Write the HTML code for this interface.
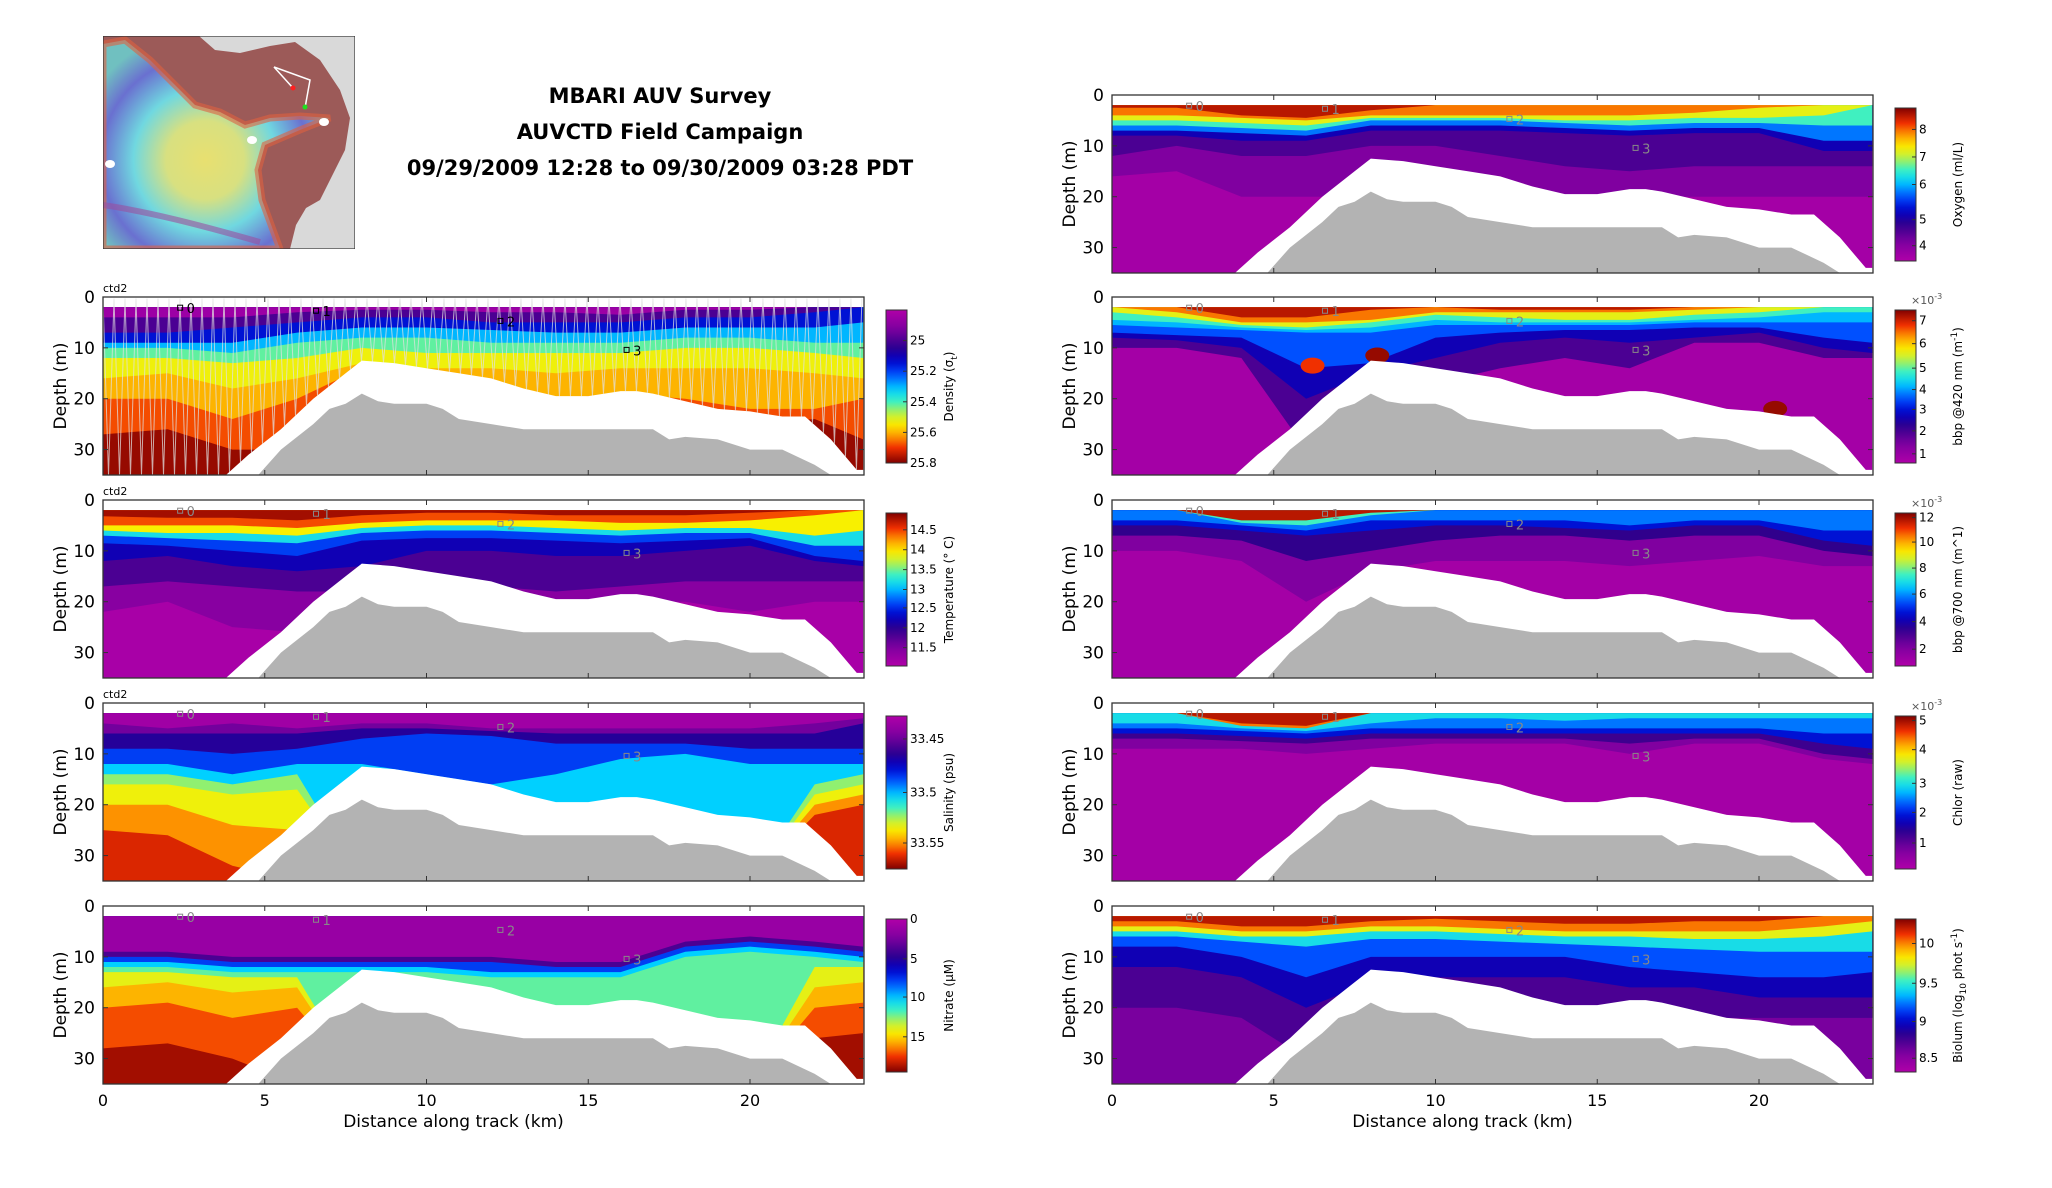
<!DOCTYPE html>
<html><head><meta charset="utf-8"><style>
html,body{margin:0;padding:0;background:#fff;}
svg{display:block;font-family:"DejaVu Sans","Liberation Sans",sans-serif;}
</style></head><body>
<svg id="fig" xmlns="http://www.w3.org/2000/svg" width="2052" height="1188" viewBox="0 0 2052 1188">
<defs>
<linearGradient id="cbHiTop" x1="0" y1="0" x2="0" y2="1"></linearGradient>
<linearGradient id="cbLoTop" x1="0" y1="0" x2="0" y2="1"></linearGradient>
<radialGradient id="mapGrad" gradientUnits="userSpaceOnUse" cx="205" cy="160" r="130">
<stop offset="0" stop-color="#e8e070"/><stop offset="0.3" stop-color="#d8e080"/><stop offset="0.55" stop-color="#70d8e0"/><stop offset="0.8" stop-color="#6a70d0"/><stop offset="1" stop-color="#70c0c0"/>
</radialGradient>
<clipPath id="mapClip"><rect x="103" y="36" width="252" height="213"/></clipPath>
</defs>
<g id="map" clip-path="url(#mapClip)">
<rect x="103" y="36" width="252" height="213" fill="#d9d9d9"/>
<path d="M103,36 L199,36 L215,50 L240,53 L270,46 L295,42 L320,60 L340,90 L350,118 L345,150 L335,170 L320,200 L306,208 L296,225 L290,249 L103,249 Z" fill="#9c5a58"/>
<path d="M103,44 L125,40 L150,60 L175,85 L195,105 L220,112 L245,125 L270,118 L300,116 L330,118 L300,130 L265,145 L258,170 L262,200 L280,249 L103,249 Z" fill="url(#mapGrad)" stroke="#e06040" stroke-width="7" stroke-opacity="0.6"/>
<path d="M103,205 C150,212 200,225 260,242" stroke="#9a50a0" stroke-width="6" fill="none" opacity="0.6"/>
<polyline points="274,67 310,80 305,108" fill="none" stroke="#fff" stroke-width="1.5"/>
<line x1="274" y1="67" x2="293" y2="88" stroke="#fff" stroke-width="1.5"/>
<circle cx="293" cy="88" r="2.5" fill="#ff2020"/>
<circle cx="305" cy="107" r="2.5" fill="#20e020"/>
<ellipse cx="324" cy="122" rx="5" ry="4" fill="#fff"/>
<ellipse cx="252" cy="140" rx="5" ry="4" fill="#fff"/>
<ellipse cx="110" cy="164" rx="5" ry="4" fill="#fff"/>
<rect x="103" y="36" width="252" height="213" fill="none" stroke="#333" stroke-width="1.2"/>
</g>
<g id="title" font-weight="bold" font-size="21" text-anchor="middle" fill="#000">
<text x="660" y="103">MBARI AUV Survey</text>
<text x="660" y="139">AUVCTD Field Campaign</text>
<text x="660" y="175">09/29/2009 12:28 to 09/30/2009 03:28 PDT</text>
</g>
<g id="panels"></g>
</svg>
<script>
// ---- shared data ----
const xs = [0,2,4,6,8,10,12,14,16,18,20,22,23.5];
const gapX = [0,3.8,4.5,5.5,6.5,7.5,8,9,10,11,12,13,14,15,16,16.5,17,18,19,20,21,21.7,22.5,23.3,23.5];
const gapD = [35,35,31,26,20,15,12.5,13,14,15,16,18,19.5,19.5,18.5,18.5,19,20.5,22,22.5,23.5,23.5,28,34,34];
const bathX = [4.8,5.5,6.5,7,7.5,8,8.5,9,10,10.5,11,12,13,14,16,17,17.5,18,19,20,21,22,22.5];
const bathD = [35,30,25,22,21,19,20.5,21,21,22,24,25,26,26,26,26,28,27.5,28,30,30,33,35];
const stX = [2.4,6.6,12.3,16.2];
const stD = [2.2,2.8,4.8,10.5];
const stLabels = ["0","1","2","3"];
const xTicks = [0,5,10,15,20];
const yTicks = [0,10,20,30];

// density
const denLevels = [0.05,0.2,0.35,0.5,0.62,0.73,0.8,0.88];
const denBg = 0.98;
const denDepths = [
 [4,4,4,3,2.5,2.5,3,3,3.5,2.5,2.5,2,2],
 [7,7,6,5,4,4,5,5,5,4,4,3,2],
 [9,9,9,7,6,6,6.5,7,7,6,6,6,5],
 [10,10,11,9,8,8,9,9,9,8,8,9,9],
 [12,12,13,12,10,11,11,11,11,10,10,11,12],
 [16,15,18,16,13,14,14,15,14,14,14,15,16],
 [20,20,24,20,14,16,19,20,19,20,22,22,20],
 [27,26,30,30,30,30,30,30,30,30,25,24,28]];
const denTicks = ["25","25.2","25.4","25.6","25.8"];
const denTickPos = [0.2,0.4,0.6,0.8,1.0];

// temperature
const tmpLevels = [0.97,0.88,0.74,0.55,0.4,0.3,0.2,0.1];
const tmpBg = 0.02;
const tmpDepths = [
 [3.2,3.5,3.5,4,3,2.5,2.5,3,3,3,2.5,2,2],
 [5,5,5,5.5,4.5,4,4,4,4.5,4.5,4,3,2],
 [6,6.5,6.5,7,5.5,5,5,5.5,6,5.5,5.5,7,6],
 [7,7.5,8,8.5,6.5,6,6,6.5,7,6.5,6.5,9,9],
 [8.5,9,10,11,8,7.5,7.5,8,8.5,8,7.5,11,12],
 [12,11,13,14,13,10,10,11,11,10,9,12,13],
 [17,16,17,18,18,16,17,18,17,16,16,16,16],
 [22,20,25,26,25,24,24,22,20,20,22,20,20]];
const tmpTicks = ["14.5","14","13.5","13","12.5","12","11.5"];
const tmpTickPos = [0.11,0.24,0.37,0.5,0.62,0.75,0.88];

// salinity
const salLevels = [0.04,0.14,0.26,0.4,0.52,0.65,0.73,0.83];
const salBg = 0.92;
const salDepths = [
 [4,5,4,5,4,4,5,5,5,5,5,4,3],
 [6,6,6,6,5,5,5.5,6,6,6,6,6,4],
 [9,9,10,9,7,6,6.5,8,8,8,9,9,9],
 [12,12,14,12,12,14,16,14,11,10,12,12,12],
 [14,14,16,14,35,35,35,35,35,35,35,16,14],
 [16,16,18,17,35,35,35,35,35,35,35,18,16],
 [20,20,24,25,35,35,35,35,35,35,35,20,18],
 [25,26,32,35,35,35,35,35,35,35,35,22,20]];
const salTicks = ["33.45","33.5","33.55"];
const salTickPos = [0.15,0.5,0.83];

// nitrate
const nitLevels = [0.06,0.2,0.4,0.52,0.62,0.72,0.8,0.88];
const nitBg = 0.97;
const nitDepths = [
 [9,9,10,10,10,10,10,11,11,7,6,7,8],
 [10,10,11,11,11,11,11,12,12,8,7,8,9],
 [11,11,12,12,12,12,13,13,13,9,8,9,10],
 [12,12,13,13,13,13,14,14,14,10,9,10,11],
 [13,13,14,14,35,35,35,35,35,35,35,12,12],
 [16,15,17,16,35,35,35,35,35,35,35,16,15],
 [20,19,22,20,35,35,35,35,35,35,35,20,19],
 [28,27,30,35,35,35,35,35,35,35,35,26,25]];
const nitTicks = ["0","5","10","15"];
const nitTickPos = [0.0,0.26,0.51,0.77];

// oxygen
const oxyLevels = [0.95,0.85,0.72,0.6,0.45,0.3,0.2,0.12];
const oxyBg = 0.03;
const oxyDepths = [
 [2.5,2.5,4,4.5,3,2,2,2,2,2,2,2,2],
 [4,4,4.5,5,4,4,4,4,4,3.5,2.5,2,2],
 [5,5,5.5,6,4.5,4.5,4.5,5,5,4.5,4.5,4,2],
 [6,6,6.5,7,5,5,5,5.5,6,5.5,5.5,6,6],
 [7,7,7.5,8,6,6,6,6.5,7,6.5,6.5,9,9],
 [8,8,9,9,7,7,7,7.5,8,7.5,7.5,11,11],
 [12,10,12,12,10,10,12,14,15,14,14,14,14],
 [16,15,20,20,20,18,18,20,20,20,20,20,20]];
const oxyTicks = ["8","7","6","5","4"];
const oxyTickPos = [0.14,0.32,0.5,0.73,0.9];

// bbp 420
const b42Levels = [0.95,0.85,0.72,0.6,0.5,0.42,0.3,0.2];
const b42Bg = 0.03;
const b42Depths = [
 [2,2,4,4,2.5,2,2.5,2.5,2.5,2,2,2,2],
 [2,3,5,5,4.5,3,3,3,3,2.5,2,2,2],
 [3,4,5.5,6,5,3.5,4,4.5,4.5,3.5,3,2,2],
 [4.5,5,6,6.5,6,4.5,5,5,5,4.5,4,3,3],
 [5.5,6,6.5,7,7,5.5,5.5,5.5,5.5,5,5,5,5],
 [7,7.5,8,14,13,8,7,6.5,6.5,6,6,8,9],
 [8,8.5,10,20,15,12,9,8,9,8,7,10,11],
 [10,10,12,30,20,17,14,12,14,9,9,12,12]];
const b42SpotX = [6.2,8.2,10.5,20.5];
const b42SpotD = [13.5,11.5,16.5,22];
const b42SpotL = [0.9,0.98,0.88,0.98];
const b42Ticks = ["7","6","5","4","3","2","1"];
const b42TickPos = [0.07,0.22,0.38,0.52,0.65,0.79,0.94];

// bbp 700
const b70Levels = [0.95,0.6,0.45,0.35,0.24,0.12];
const b70Bg = 0.03;
const b70Depths = [
 [2,2,4,4,2.5,2,2,2,2,2,2,2,2],
 [2,2,4.5,5,3,2,2,2,2,2,2,2,2],
 [4,4,5,6,4,4,4,4,5,4,4,6,6],
 [5,5,6,7,6,5,5,5.5,6,5,5,8,9],
 [7,7,8,12,10,8,7,7,8,7,7,10,11],
 [10,10,12,20,14,12,12,12,13,12,11,13,13]];
const b70Ticks = ["12","10","8","6","4","2"];
const b70TickPos = [0.03,0.19,0.36,0.53,0.71,0.89];

// chlorophyll
const chlLevels = [0.95,0.85,0.55,0.45,0.35,0.22,0.12];
const chlBg = 0.03;
const chlDepths = [
 [2,2,4,4.5,2,2,2,2,2,2,2,2,2],
 [2,2,4.5,5,2,2,2,2,2,2,2,2,2],
 [4,4,5,5.5,4,3,3,3.5,3,3,3,3,3],
 [5,5,5.5,6,5,5,5,5,5,5,5,6,6],
 [6,6,6.5,7,6,6,6,6,6,6,6,8,9],
 [7,7,7.5,8,7,7,7,7,8,7,7,10,11],
 [9,9,9,10,9,8,8,8,10,8,8,11,12]];
const chlTicks = ["5","4","3","2","1"];
const chlTickPos = [0.03,0.22,0.44,0.63,0.83];

// bioluminescence
const bioLevels = [0.95,0.85,0.72,0.55,0.42,0.3,0.2];
const bioBg = 0.13;
const bioDepths = [
 [3,3,4,4,3,2.5,3,3.5,3.5,3,3,2,2],
 [4,4,5,5,4,4,4.5,5,5,5,5,4,3],
 [5,5,6,6,5,5,5.5,6,6,6.5,6.5,6,5],
 [6,6,7,8,6.5,6.5,7,7.5,8,8.5,9,9,9],
 [8,8,10,14,10,10,10,10,12,13,14,14,13],
 [12,12,14,20,15,14,14,14,16,16,18,18,18],
 [20,20,22,30,22,20,20,22,22,22,22,22,22]];
const bioTicks = ["10","9.5","9","8.5"];
const bioTickPos = [0.16,0.42,0.67,0.91];

// ---- drawing ----
const NS = "http://www.w3.org/2000/svg";
const KM = 32.35, PW = 761, PH = 178, DMAX = 35;
const stops = [[0,[176,0,168]],[0.12,[128,0,160]],[0.24,[48,0,140]],[0.33,[0,0,200]],[0.42,[0,80,255]],[0.52,[0,208,255]],[0.6,[64,240,192]],[0.68,[192,240,64]],[0.74,[248,240,0]],[0.82,[255,160,0]],[0.9,[240,48,0]],[1,[128,0,0]]];
function pal(t){
  t = Math.max(0,Math.min(1,t));
  for(let i=1;i<stops.length;i++){
    if(t<=stops[i][0]){
      const a=stops[i-1],b=stops[i],f=(t-a[0])/(b[0]-a[0]);
      const c=a[1].map((v,j)=>Math.round(v+(b[1][j]-v)*f));
      return "rgb("+c.join(",")+")";
    }
  }
  return "rgb(128,0,0)";
}
(function(){
  const g1=document.getElementById("cbHiTop"), g2=document.getElementById("cbLoTop");
  for(let i=0;i<=20;i++){
    const t=i/20;
    const s1=document.createElementNS(NS,"stop"); s1.setAttribute("offset",t); s1.setAttribute("stop-color",pal(1-t)); g1.appendChild(s1);
    const s2=document.createElementNS(NS,"stop"); s2.setAttribute("offset",t); s2.setAttribute("stop-color",pal(t)); g2.appendChild(s2);
  }
})();
const root = document.getElementById("panels");
function el(tag, attrs, parent){
  const e=document.createElementNS(NS,tag);
  for(const k in attrs) e.setAttribute(k,attrs[k]);
  (parent||root).appendChild(e);
  return e;
}
function interp(arrX, arrY, x){
  if(x<=arrX[0]) return arrY[0];
  for(let i=1;i<arrX.length;i++){ if(x<=arrX[i]){const f=(x-arrX[i-1])/(arrX[i]-arrX[i-1]); return arrY[i-1]+(arrY[i]-arrY[i-1])*f;} }
  return arrY[arrY.length-1];
}

function panel(p){
  const x0=p.x0, y0=p.y0;
  const X=k=>x0+k*KM, Y=d=>y0+Math.min(d,DMAX)*PH/DMAX;
  const g=el("g",{});
  
  
  const clipId="clip-"+p.name;
  const cp=el("clipPath",{id:clipId},g);
  el("rect",{x:x0,y:y0,width:PW,height:PH},cp);
  const plot=el("g",{"clip-path":"url(#"+clipId+")"},g);
  const bg=el("rect",{x:X(0),y:Y(2),width:X(xs[xs.length-1])-X(0),height:Y(35)-Y(2),fill:pal(p.bg)},plot);
  
  
  for(let b=p.levels.length-1;b>=0;b--){
    let pts=[];
    xs.forEach(k=>pts.push(X(k)+","+Y(2)));
    for(let i=xs.length-1;i>=0;i--) pts.push(X(xs[i])+","+Y(p.depths[b][i]));
    const poly=el("polygon",{points:pts.join(" "),fill:pal(p.levels[b])},plot);
    
    
  }
  if(p.spotX){
    p.spotX.forEach((k,i)=>{
      const s=el("ellipse",{cx:X(k),cy:Y(p.spotD[i]),rx:12,ry:8,fill:pal(p.spotL[i])},plot);
      
      
    });
  }
  if(p.yoyo){
    let pts=[], up=true;
    for(let k=0;k<=23.5;k+=0.17){ pts.push(X(k)+","+(up?Y(0.3):Y(Math.max(2,interp(gapX,gapD,k))))); up=!up; }
    const yl=el("polyline",{points:pts.join(" "),fill:"none",stroke:"#e0e0e0","stroke-width":1,opacity:0.75},plot);
    
    
  }
  let gp=gapX.map((k,i)=>X(k)+","+Y(gapD[i]));
  gp.push(X(23.6)+","+(y0+PH+2)); gp.push(X(0)+","+(y0+PH+2));
  const gap=el("polygon",{points:gp.join(" "),fill:"#fff"},plot);
  
  
  let bp=bathX.map((k,i)=>X(k)+","+Y(bathD[i]));
  bp.push(X(bathX[bathX.length-1])+","+(y0+PH+2)); bp.push(X(bathX[0])+","+(y0+PH+2));
  const bath=el("polygon",{points:bp.join(" "),fill:"#b3b3b3"},plot);
  
  
  stX.forEach((k,i)=>{
    const c=p.yoyo?"#000":"#888";
    const r=el("rect",{x:X(k)-3,y:Y(stD[i])-3,width:5,height:5,fill:"none",stroke:c,"stroke-width":1},g);
    
    
    const t=el("text",{x:X(k)+6,y:Y(stD[i])+5,"font-size":13,fill:c},g);
    t.textContent=stLabels[i];
    
    
  });
  const fr=el("rect",{x:x0,y:y0,width:PW,height:PH,fill:"none",stroke:"#333","stroke-width":1.3},g);
  
  
  xTicks.forEach(v=>{
    el("line",{x1:X(v),y1:y0+PH,x2:X(v),y2:y0+PH-5,stroke:"#333"},g);
    el("line",{x1:X(v),y1:y0,x2:X(v),y2:y0+5,stroke:"#333"},g);
    if(p.xlabels){
      const t=el("text",{x:X(v),y:y0+PH+22,"font-size":16,"text-anchor":"middle"},g);
      t.textContent=v;
      
      
    }
  });
  yTicks.forEach(v=>{
    el("line",{x1:x0,y1:Y(v),x2:x0+5,y2:Y(v),stroke:"#333"},g);
    el("line",{x1:x0+PW,y1:Y(v),x2:x0+PW-5,y2:Y(v),stroke:"#333"},g);
    const t=el("text",{x:x0-8,y:Y(v)+6,"font-size":17,"text-anchor":"end"},g);
    t.textContent=v;
    
    
  });
  const yl=el("text",{x:0,y:0,"font-size":17,"text-anchor":"middle",transform:"translate("+(x0-37)+","+(y0+PH/2)+") rotate(-90)"},g);
  yl.textContent="Depth (m)";
  
  
  if(p.xlabels){
    const xl=el("text",{x:x0+PW/2-30,y:y0+PH+43,"font-size":17,"text-anchor":"middle"},g);
    xl.textContent="Distance along track (km)";
    
    
  }
  if(p.ctd){
    const ct=el("text",{x:x0,y:y0-5,"font-size":11},g);
    ct.textContent="ctd2";
    
    
  }
  const cbx=x0+PW+22, cby=y0+13, cbh=PH-25;
  const cb=el("rect",{x:cbx,y:cby,width:21,height:cbh,fill:p.loTop?"url(#cbLoTop)":"url(#cbHiTop)",stroke:"#333","stroke-width":1},g);
  
  
  p.ticks.forEach((s,i)=>{
    const yy=cby+p.tickPos[i]*cbh;
    el("line",{x1:cbx+21,y1:yy,x2:cbx+17,y2:yy,stroke:"#333"},g);
    const t=el("text",{x:cbx+24,y:yy+4,"font-size":12},g);
    t.textContent=s;
    
    
  });
  if(p.exp){
    const e=el("text",{x:cbx+16,y:cby-6,"font-size":11,fill:"#555"},g);
    e.innerHTML='×10<tspan dy="-5" font-size="8">-3</tspan>';
    
    
  }
  const cl=el("text",{x:0,y:0,"font-size":12,"text-anchor":"middle",transform:"translate("+(cbx+67)+","+(cby+cbh/2)+") rotate(-90)"},g);
  cl.innerHTML=p.label;
  
  
}
const LX=103, RX=1112;
panel({name:"density",x0:LX,y0:297,levels:denLevels,depths:denDepths,bg:denBg,ticks:denTicks,tickPos:denTickPos,loTop:true,yoyo:true,ctd:true,label:'Density (σ<tspan dy="4" font-size="9">t</tspan><tspan dy="-4">)</tspan>'});
panel({name:"temperature",x0:LX,y0:500,levels:tmpLevels,depths:tmpDepths,bg:tmpBg,ticks:tmpTicks,tickPos:tmpTickPos,ctd:true,label:"Temperature (° C)"});
panel({name:"salinity",x0:LX,y0:703,levels:salLevels,depths:salDepths,bg:salBg,ticks:salTicks,tickPos:salTickPos,loTop:true,ctd:true,label:"Salinity (psu)"});
panel({name:"nitrate",x0:LX,y0:906,levels:nitLevels,depths:nitDepths,bg:nitBg,ticks:nitTicks,tickPos:nitTickPos,loTop:true,xlabels:true,label:"Nitrate (μM)"});
panel({name:"oxygen",x0:RX,y0:95,levels:oxyLevels,depths:oxyDepths,bg:oxyBg,ticks:oxyTicks,tickPos:oxyTickPos,label:"Oxygen (ml/L)"});
panel({name:"bbp420",x0:RX,y0:297,levels:b42Levels,depths:b42Depths,bg:b42Bg,spotX:b42SpotX,spotD:b42SpotD,spotL:b42SpotL,ticks:b42Ticks,tickPos:b42TickPos,exp:true,label:'bbp @420 nm (m<tspan dy="-5" font-size="9">-1</tspan><tspan dy="5">)</tspan>'});
panel({name:"bbp700",x0:RX,y0:500,levels:b70Levels,depths:b70Depths,bg:b70Bg,ticks:b70Ticks,tickPos:b70TickPos,exp:true,label:"bbp @700 nm (m^1)"});
panel({name:"chlorophyll",x0:RX,y0:703,levels:chlLevels,depths:chlDepths,bg:chlBg,ticks:chlTicks,tickPos:chlTickPos,exp:true,label:"Chlor (raw)"});
panel({name:"bioluminescence",x0:RX,y0:906,levels:bioLevels,depths:bioDepths,bg:bioBg,ticks:bioTicks,tickPos:bioTickPos,xlabels:true,label:'Biolum (log<tspan dy="4" font-size="9">10</tspan><tspan dy="-4"> phot s</tspan><tspan dy="-5" font-size="9">-1</tspan><tspan dy="5">)</tspan>'});
</script>
</body></html>
